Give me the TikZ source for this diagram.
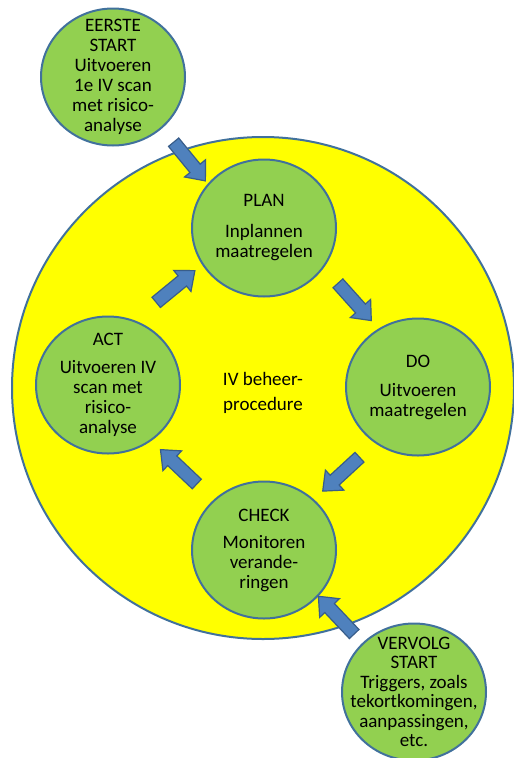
\documentclass[tikz,border=0pt]{standalone}
\usepackage{fontspec}
\setmainfont{Carlito}
\usepackage{xcolor}
\usetikzlibrary{shapes,positioning,calc}

\definecolor{cyclefill}{HTML}{FFFF00}
\definecolor{stepfill}{HTML}{92D050}
\definecolor{stepline}{HTML}{41719C}
\definecolor{arrowfill}{HTML}{4F81BD}
\definecolor{arrowline}{HTML}{385D8A}

\begin{document}
\begin{tikzpicture}[
  x=1pt, y=-1pt,
  cycle/.style={circle, draw=stepline, line width=2pt, fill=cyclefill, minimum size=502pt, inner sep=0pt},
  phase/.style={ellipse, draw=stepline, line width=2pt, fill=stepfill, minimum width=144pt, minimum height=137pt, inner sep=0pt},
  phasetext/.style={align=center, inner sep=0pt, font=\fontsize{19}{20}\selectfont},
  blockarrow/.style={single arrow, draw=arrowline, line width=1.2pt, fill=arrowfill, inner xsep=0pt, inner ysep=6pt, single arrow head extend=7pt, single arrow tip angle=80, minimum height=50pt, sloped, allow upside down},
  label/.style={align=center, font=\fontsize{19}{25}\selectfont}
]
\useasboundingbox (0,0) rectangle (514,758);

% Background cycle
\node[cycle] (cycle) at (263,388) {};
\node[label] (cycle-label) at (263,393) {IV beheer-\\procedure};

% Start circles
\node[phase] (first) at (113,77) {};
\node[phasetext] (first-text) at (first) {EERSTE\\START\\Uitvoeren\\1e IV scan\\met risico-\\analyse};
\node[phase] (next) at (414,692) {};
\node[phasetext, font=\fontsize{19}{19.5}\selectfont] (next-text) at (next) {VERVOLG\\START\\Triggers, zoals\\tekortkomingen,\\aanpassingen,\\etc.};

% PDCA steps
\node[phase] (plan) at (264,228) {};
\node[phasetext] (plan-text) at (plan) {PLAN\\[11pt]Inplannen\\maatregelen};
\node[phase] (do) at (418,387) {};
\node[phasetext] (do-text) at (do) {DO\\[9pt]Uitvoeren\\maatregelen};
\node[phase] (check) at (264,550) {};
\node[phasetext] (check-text) at (check) {CHECK\\[7pt]Monitoren\\verande-\\ringen};
\node[phase] (act) at (108,385) {};
\node[phasetext] (act-text) at (act) {ACT\\[8pt]Uitvoeren IV\\scan met\\risico-\\analyse};

% Arrow ends
\coordinate (first-out) at (171,139);
\coordinate (plan-in) at (203,178);
\coordinate (plan-out) at (335,280);
\coordinate (do-in) at (369,318);
\coordinate (do-out) at (363,454);
\coordinate (check-in) at (325,489);
\coordinate (check-out) at (200,487);
\coordinate (act-in) at (163,452);
\coordinate (act-out) at (153,305);
\coordinate (plan-in2) at (192,273);
\coordinate (next-out) at (357,637);
\coordinate (check-in2) at (321,599);

% Block arrows
\path (first-out) -- (plan-in) node[blockarrow, midway] (a-first) {};
\path (plan-out) -- (do-in) node[blockarrow, midway] (a-plan) {};
\path (do-out) -- (check-in) node[blockarrow, midway] (a-do) {};
\path (check-out) -- (act-in) node[blockarrow, midway] (a-check) {};
\path (act-out) -- (plan-in2) node[blockarrow, midway] (a-act) {};
\path (next-out) -- (check-in2) node[blockarrow, midway, minimum height=52pt] (a-next) {};

\end{tikzpicture}
\end{document}
